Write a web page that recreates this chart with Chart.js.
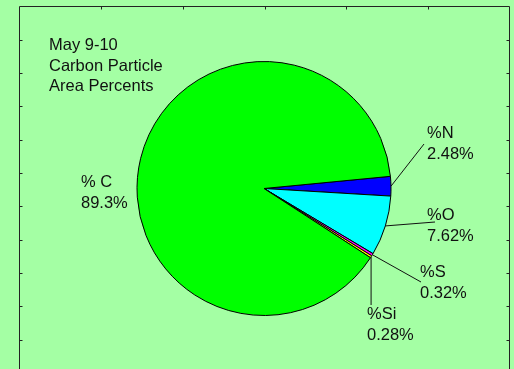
<!DOCTYPE html>
<html>
<head>
<meta charset="utf-8">
<script src="https://cdn.jsdelivr.net/npm/chart.js@4/dist/chart.umd.min.js"></script>
<style>
html,body{margin:0;padding:0;background:#a4ffa4;}
#wrap{width:514px;height:369px;position:relative;}
</style>
</head>
<body>
<div id="wrap"><canvas id="c" width="514" height="369"></canvas></div>
<script>
const categories = ['%N', '%O', '%S', '%Si', '% C'];
const values = [2.48, 7.62, 0.32, 0.28, 89.3];
const valueLabels = ['2.48%', '7.62%', '0.32%', '0.28%', '89.3%'];
const colors = ['#0000ff', '#00ffff', '#ff00ff', '#ffff00', '#00ff00'];
const titleLines = ['May 9-10', 'Carbon Particle', 'Area Percents'];

// label layout: [textX, baseline of first line, leader end x, leader end y (null = no leader)]
const labelLayout = [
  [427, 138, 424, 144],
  [427, 220, 435, 222],
  [420, 277, 421, 282],
  [367, 319, null, 305],
  [81, 187, null, null]
];

const FONT = '16.5px "Liberation Sans", Arial, sans-serif';

const framePlugin = {
  id: 'frame',
  beforeDraw(chart) {
    const ctx = chart.ctx;
    ctx.save();
    ctx.fillStyle = '#a4ffa4';
    ctx.fillRect(0, 0, chart.width, chart.height);
    ctx.strokeStyle = '#222';
    ctx.lineWidth = 1;
    const L = 19.5, R = 509.5, T = 6.5, B = 400;
    ctx.beginPath();
    ctx.moveTo(L, B); ctx.lineTo(L, T); ctx.lineTo(R, T); ctx.lineTo(R, B);
    ctx.stroke();
    ctx.beginPath();
    const dx = (R - L) / 6;
    for (let i = 1; i < 6; i++) {
      const x = Math.round(L + dx * i) + 0.5;
      ctx.moveTo(x, T); ctx.lineTo(x, T + 3);
    }
    const dy = 33.3;
    for (let i = 1; i < 11; i++) {
      const y = Math.round(T + dy * i) + 0.5;
      ctx.moveTo(L, y); ctx.lineTo(L + 3, y);
      ctx.moveTo(R, y); ctx.lineTo(R - 3, y);
    }
    ctx.stroke();
    ctx.restore();
  },
  afterDraw(chart) {
    const ctx = chart.ctx;
    ctx.save();
    ctx.font = FONT;
    ctx.fillStyle = '#111';
    ctx.textAlign = 'left';
    ctx.textBaseline = 'alphabetic';
    const tb = [50, 70.5, 91];
    titleLines.forEach((t, i) => ctx.fillText(t, 49, tb[i]));
    const meta = chart.getDatasetMeta(0);
    ctx.strokeStyle = '#111';
    ctx.lineWidth = 1;
    meta.data.forEach((arc, i) => {
      const p = arc.getProps(['x', 'y', 'startAngle', 'endAngle', 'outerRadius'], true);
      const mid = (p.startAngle + p.endAngle) / 2;
      const sx = p.x + Math.cos(mid) * p.outerRadius;
      const sy = p.y + Math.sin(mid) * p.outerRadius;
      const lay = labelLayout[i];
      if (lay[3] !== null) {
        const ex = lay[2] === null ? sx : lay[2];
        ctx.beginPath();
        ctx.moveTo(sx, sy);
        ctx.lineTo(ex, lay[3]);
        ctx.stroke();
      }
      ctx.fillText(categories[i], lay[0], lay[1]);
      ctx.fillText(valueLabels[i], lay[0], lay[1] + 20.5);
    });
    ctx.restore();
  }
};

new Chart(document.getElementById('c'), {
  type: 'pie',
  data: {
    labels: categories,
    datasets: [{
      data: values,
      backgroundColor: colors,
      borderColor: '#000',
      borderWidth: 1,
      radius: 127,
      rotation: 84.5
    }]
  },
  options: {
    responsive: false,
    animation: false,
    layout: { padding: { left: 14, right: 0, top: 8, bottom: 0 } },
    plugins: { legend: { display: false }, tooltip: { enabled: false }, title: { display: false } }
  },
  plugins: [framePlugin]
});
</script>
</body>
</html>
